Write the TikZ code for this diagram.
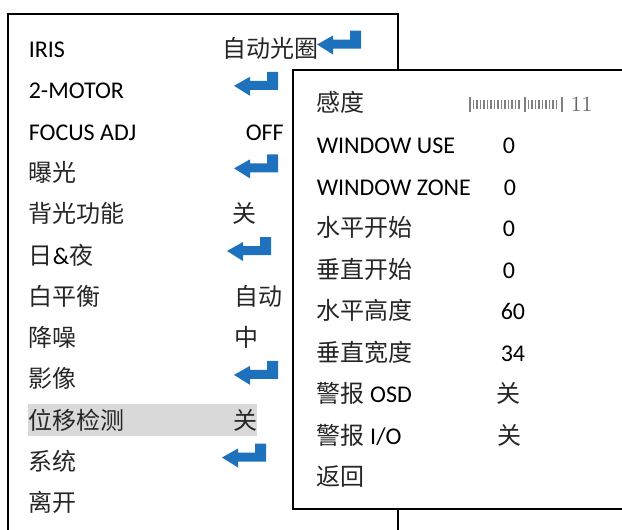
\documentclass[tikz,border=0pt]{standalone}
\usepackage{fontspec}
\newfontfamily\calib{Carlito}
\newfontfamily\cjk[Color=262626]{Noto Sans CJK SC}
\usepackage{tikz}
\definecolor{keyblue}{RGB}{30,114,189}
\tikzset{
  menutext/.style={anchor=base west,inner sep=0pt,font=\fontsize{12}{14}\selectfont\calib},
  enterkey/.pic={
    \fill[keyblue] (0,-13) -- (16,-22) -- (16,-18) -- (33,-18) -- (33,-27) -- (44,-27)
      -- (44,-9) -- (16,-9) -- (16,-3) -- cycle;
  },
}

\begin{document}
\begin{tikzpicture}[x=0.5pt,y=-0.5pt,line width=0.8pt]
      \useasboundingbox (0,0) rectangle (622,530);
      \clip (0,0) rectangle (622,530);

      % main menu
      \draw (8,540) -- (8,14) -- (398,14) -- (398,540);
      \fill[gray!30] (28,404) rectangle (257,436);
      \foreach \n/\t [count=\i from 0] in {iris/IRIS, motor/2-MOTOR, focus/FOCUS ADJ,
          expo/{\cjk 曝光}, blc/{\cjk 背光功能}, daynight/{{\cjk 日}\&{\cjk 夜}},
          awb/{\cjk 白平衡}, dnr/{\cjk 降噪}, image/{\cjk 影像}, motion/{\cjk 位移检测},
          system/{\cjk 系统}, leave/{\cjk 离开}}
        \node[menutext] (\n) at (28,{57.5+41.3*\i}) {\t};
      \node[menutext] (irisv) at (222,0 |- iris.base) {\cjk 自动光圈};
      \node[menutext] (focusv) at (245,0 |- focus.base) {OFF};
      \node[menutext] (blcv) at (232,0 |- blc.base) {\cjk 关};
      \node[menutext] (awbv) at (234,0 |- awb.base) {\cjk 自动};
      \node[menutext] (dnrv) at (234,0 |- dnr.base) {\cjk 中};
      \node[menutext] (motionv) at (233,0 |- motion.base) {\cjk 关};
      \pic at (317,0 |- iris.base) {enterkey};
      \pic at (234,0 |- motor.base) {enterkey};
      \pic at (234,0 |- expo.base) {enterkey};
      \pic at (227,0 |- daynight.base) {enterkey};
      \pic at (234,0 |- image.base) {enterkey};
      \pic at (222,0 |- system.base) {enterkey};

      % motion detection submenu
      \filldraw[fill=white] (293,509) -- (293,70) -- (640,70) -- (640,509) -- cycle;
      \foreach \n/\t [count=\i from 0] in {sens/{\cjk 感度}, winuse/WINDOW USE,
          winzone/WINDOW ZONE, hstart/{\cjk 水平开始}, vstart/{\cjk 垂直开始},
          hsize/{\cjk 水平高度}, vsize/{\cjk 垂直宽度}, osd/{{\cjk 警报} OSD},
          alarmio/{{\cjk 警报} I/O}, back/{\cjk 返回}}
        \node[menutext] (\n) at (316,{112+41.5*\i}) {\t};
      \node[menutext] (winusev) at (502,0 |- winuse.base) {0};
      \node[menutext] (winzonev) at (503,0 |- winzone.base) {0};
      \node[menutext] (hstartv) at (502,0 |- hstart.base) {0};
      \node[menutext] (vstartv) at (502,0 |- vstart.base) {0};
      \node[menutext] (hsizev) at (500,0 |- hsize.base) {60};
      \node[menutext] (vsizev) at (500,0 |- vsize.base) {34};
      \node[menutext] (osdv) at (496,0 |- osd.base) {\cjk 关};
      \node[menutext] (alarmiov) at (497,0 |- alarmio.base) {\cjk 关};

      % sensitivity slider
      \foreach \x in {473.5,477,...,522,528.5,532,...,559}
        \draw[gray,line width=0.6pt] (\x,100) -- (\x,109);
      \draw[gray,line width=1.1pt] (470,97) -- (470,112);
      \draw[gray,line width=0.7pt] (525,97) -- (525,112);
      \draw[gray,line width=1.3pt] (562,97) -- (562,112);
      \node[anchor=base west,inner sep=0pt,gray!80!black,font=\fontsize{10.8}{12}\selectfont] (sensv) at (570,112) {11};
\end{tikzpicture}
\end{document}
